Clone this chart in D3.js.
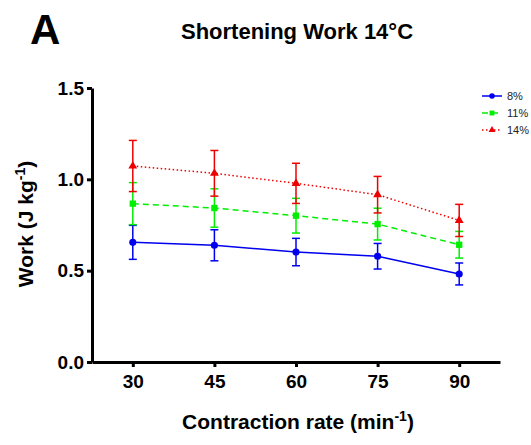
<!DOCTYPE html>
<html><head><meta charset="utf-8">
<script src="https://cdn.jsdelivr.net/npm/d3@7"></script>
<style>body{margin:0;background:#fff;font-family:"Liberation Sans",Arial,sans-serif;}</style>
</head><body>
<svg id="c" width="531" height="445"></svg>
<script>
const rates = [30, 45, 60, 75, 90];
const yTicks = [0.0, 0.5, 1.0, 1.5];
const seriesNames = ["8%", "11%", "14%"];
const work8  = [0.655, 0.639, 0.602, 0.579, 0.482];
const err8   = [0.093, 0.085, 0.075, 0.070, 0.060];
const work11 = [0.867, 0.843, 0.801, 0.755, 0.642];
const err11  = [0.115, 0.105, 0.095, 0.087, 0.073];
const work14 = [1.073, 1.033, 0.978, 0.916, 0.775];
const err14  = [0.140, 0.125, 0.110, 0.100, 0.088];

const series = [
  {name: seriesNames[0], vals: work8, errs: err8, color: "#0000ee", dash: null, sym: d3.symbolCircle, size: 40},
  {name: seriesNames[1], vals: work11, errs: err11, color: "#00ee00", dash: "6,4", sym: d3.symbolSquare, size: 40},
  {name: seriesNames[2], vals: work14, errs: err14, color: "#ee0000", dash: "1.5,2.5", sym: d3.symbolTriangle, size: 34}
];

const svg = d3.select("#c");
const x = d3.scaleLinear().domain([22.5, 97.5]).range([92, 500]);
const y = d3.scaleLinear().domain([0, 1.5]).range([362, 88]);

// Axes
const xAx = svg.append("g").attr("transform","translate(0,362)")
  .call(d3.axisBottom(x).tickValues(rates).tickSize(5).tickSizeOuter(0).tickPadding(8));
const yAx = svg.append("g").attr("transform","translate(92,0)")
  .call(d3.axisLeft(y).tickValues(yTicks).tickFormat(d3.format(".1f")).tickSize(5).tickSizeOuter(0).tickPadding(3));
[xAx, yAx].forEach(g => {
  g.select(".domain").attr("stroke","#000").attr("stroke-width",3);
  g.selectAll(".tick line").attr("stroke","#000").attr("stroke-width",3);
  g.selectAll(".tick text").attr("fill","#000").style("font-family","Liberation Sans, Arial, sans-serif")
    .style("font-weight","bold").style("font-size","19px");
});

// Series
series.forEach(s => {
  const pts = rates.map((r,i)=>({r, v:s.vals[i], e:s.errs[i]}));
  const g = svg.append("g");
  g.append("path").datum(pts)
    .attr("d", d3.line().x(d=>x(d.r)).y(d=>y(d.v)))
    .attr("fill","none").attr("stroke",s.color).attr("stroke-width",1.5)
    .attr("stroke-dasharray", s.dash);
  const eb = g.selectAll(".eb").data(pts).enter().append("g");
  eb.append("line").attr("x1",d=>x(d.r)).attr("x2",d=>x(d.r))
    .attr("y1",d=>y(d.v-d.e)).attr("y2",d=>y(d.v+d.e))
    .attr("stroke",s.color).attr("stroke-width",1.5);
  eb.append("line").attr("x1",d=>x(d.r)-4).attr("x2",d=>x(d.r)+4)
    .attr("y1",d=>y(d.v+d.e)).attr("y2",d=>y(d.v+d.e))
    .attr("stroke",s.color).attr("stroke-width",1.5);
  eb.append("line").attr("x1",d=>x(d.r)-4).attr("x2",d=>x(d.r)+4)
    .attr("y1",d=>y(d.v-d.e)).attr("y2",d=>y(d.v-d.e))
    .attr("stroke",s.color).attr("stroke-width",1.5);
  g.selectAll(".pt").data(pts).enter().append("path")
    .attr("transform",d=>`translate(${x(d.r)},${y(d.v)})`)
    .attr("d", d3.symbol().type(s.sym).size(s.size)).attr("fill",s.color);
});

// Legend
const lg = svg.append("g");
series.forEach((s,i) => {
  const ly = 96 + i*17;
  lg.append("line").attr("x1",482).attr("x2",502).attr("y1",ly).attr("y2",ly)
    .attr("stroke",s.color).attr("stroke-width",1.5).attr("stroke-dasharray", s.dash);
  lg.append("path").attr("transform",`translate(492,${ly})`)
    .attr("d", d3.symbol().type(s.sym).size(s.size*0.6)).attr("fill",s.color);
  lg.append("text").attr("x",507).attr("y",ly+4).text(s.name)
    .style("font-size","11px").attr("fill","#222");
});

// Titles
svg.append("text").attr("x",30).attr("y",44).text("A")
  .style("font-size","42px").style("font-weight","bold");
svg.append("text").attr("x",297).attr("y",39).attr("text-anchor","middle")
  .text("Shortening Work 14°C").style("font-size","22px").style("font-weight","bold");
const xl = svg.append("text").attr("x",298).attr("y",429).attr("text-anchor","middle")
  .style("font-size","21px").style("font-weight","bold");
xl.append("tspan").text("Contraction rate (min");
xl.append("tspan").attr("dy",-8).style("font-size","14px").text("-1");
xl.append("tspan").attr("dy",8).text(")");
const yl = svg.append("text").attr("transform","translate(33,224) rotate(-90)").attr("text-anchor","middle")
  .style("font-size","21px").style("font-weight","bold");
yl.append("tspan").text("Work (J kg");
yl.append("tspan").attr("dy",-8).style("font-size","14px").text("-1");
yl.append("tspan").attr("dy",8).text(")");
</script>
</body></html>
